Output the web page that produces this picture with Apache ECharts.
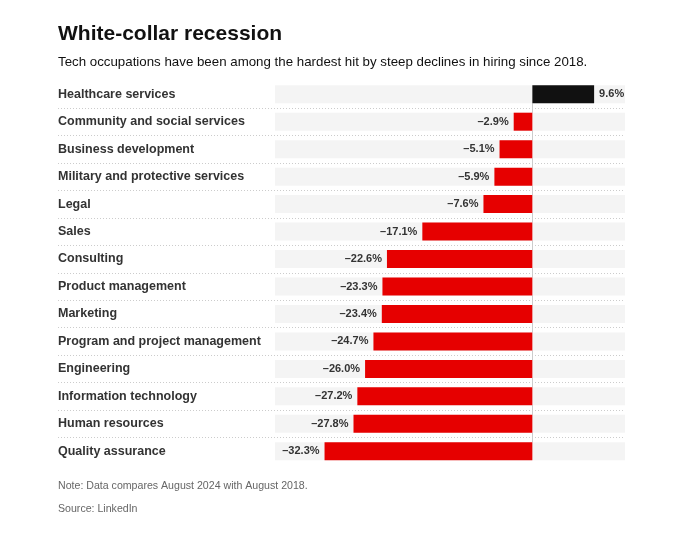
<!DOCTYPE html>
<html>
<head>
<meta charset="utf-8">
<script src="https://cdn.jsdelivr.net/npm/echarts@6/dist/echarts.min.js"></script>
<style>
  html, body { margin: 0; padding: 0; background: #fff; }
  #chart { width: 676px; height: 537px; }
</style>
</head>
<body>
<div id="chart"></div>
<script>
// 职业类别，从上到下
var categories = [
    'Healthcare services',
    'Community and social services',
    'Business development',
    'Military and protective services',
    'Legal',
    'Sales',
    'Consulting',
    'Product management',
    'Marketing',
    'Program and project management',
    'Engineering',
    'Information technology',
    'Human resources',
    'Quality assurance'
];
// 招聘变化百分比 (2024年8月 vs 2018年8月)
var changes = [9.6, -2.9, -5.1, -5.9, -7.6, -17.1, -22.6, -23.3, -23.4, -24.7, -26.0, -27.2, -27.8, -32.3];

var font = '"Liberation Sans", Arial, sans-serif';

function fmtPct(v){
    return (v < 0 ? '\u2013' : '') + Math.abs(v).toFixed(1) + '%';
}

var chart = echarts.init(document.getElementById('chart'));

// 每行高度
var plotTop = 80.5, plotHeight = 384.5;
var rowH = plotHeight / categories.length;

var option = {
    backgroundColor: '#fff',
    animation: false,
    title: [{
        text: 'White-collar recession',
        left: 58,
        top: 24,
        padding: 0,
        textStyle: { fontFamily: font, fontSize: 21, fontWeight: 'bold', color: '#111' }
    }, {
        text: 'Tech occupations have been among the hardest hit by steep declines in hiring since 2018.',
        left: 58,
        top: 56,
        padding: 0,
        textStyle: { fontFamily: font, fontSize: 13.3, fontWeight: 'normal', color: '#111' }
    }, {
        text: 'Note: Data compares August 2024 with August 2018.',
        left: 58,
        top: 481,
        padding: 0,
        textStyle: { fontFamily: font, fontSize: 10.6, fontWeight: 'normal', color: '#666' }
    }, {
        text: 'Source: LinkedIn',
        left: 58,
        top: 504,
        padding: 0,
        textStyle: { fontFamily: font, fontSize: 10.6, fontWeight: 'normal', color: '#666' }
    }],
    grid: [
        // 标签和分隔线
        { left: 58, right: 51, top: plotTop, height: plotHeight, containLabel: false },
        // 条形图（首尾类别在网格边缘，零线只画在条形之间）
        { left: 275, right: 51, top: plotTop + rowH / 2, height: plotHeight - rowH, containLabel: false }
    ],
    xAxis: [{
        gridIndex: 0,
        type: 'value',
        show: false
    }, {
        gridIndex: 1,
        type: 'value',
        min: -40,
        max: 14.4,
        show: false
    }],
    yAxis: [{
        gridIndex: 0,
        type: 'category',
        inverse: true,
        data: categories,
        axisLine: { show: false },
        axisTick: { show: false },
        axisLabel: {
            inside: true,
            margin: 0,
            align: 'left',
            fontFamily: font,
            fontSize: 12.5,
            fontWeight: 'bold',
            color: '#333'
        },
        splitLine: {
            show: true,
            showMinLine: false,
            showMaxLine: false,
            lineStyle: { color: '#ccc', type: [1, 2], width: 1 }
        }
    }, {
        gridIndex: 1,
        type: 'category',
        inverse: true,
        boundaryGap: false,
        data: categories,
        axisLine: { show: true, onZero: true, lineStyle: { color: '#ccc', width: 1 } },
        axisTick: { show: false },
        axisLabel: { show: false },
        splitLine: { show: false }
    }],
    series: [{
        type: 'bar',
        xAxisIndex: 1,
        yAxisIndex: 1,
        barWidth: 18,
        clip: false,
        showBackground: true,
        backgroundStyle: { color: '#f4f4f4' },
        data: changes.map(function(v){
            return {
                value: v,
                itemStyle: { color: v >= 0 ? '#111' : '#e60000' },
                label: { position: v >= 0 ? 'right' : 'left' }
            };
        }),
        label: {
            show: true,
            distance: 5,
            fontFamily: font,
            fontSize: 11,
            fontWeight: 'bold',
            color: '#333',
            formatter: function(p){ return fmtPct(p.value); }
        }
    }]
};

chart.setOption(option);
</script>
</body>
</html>
